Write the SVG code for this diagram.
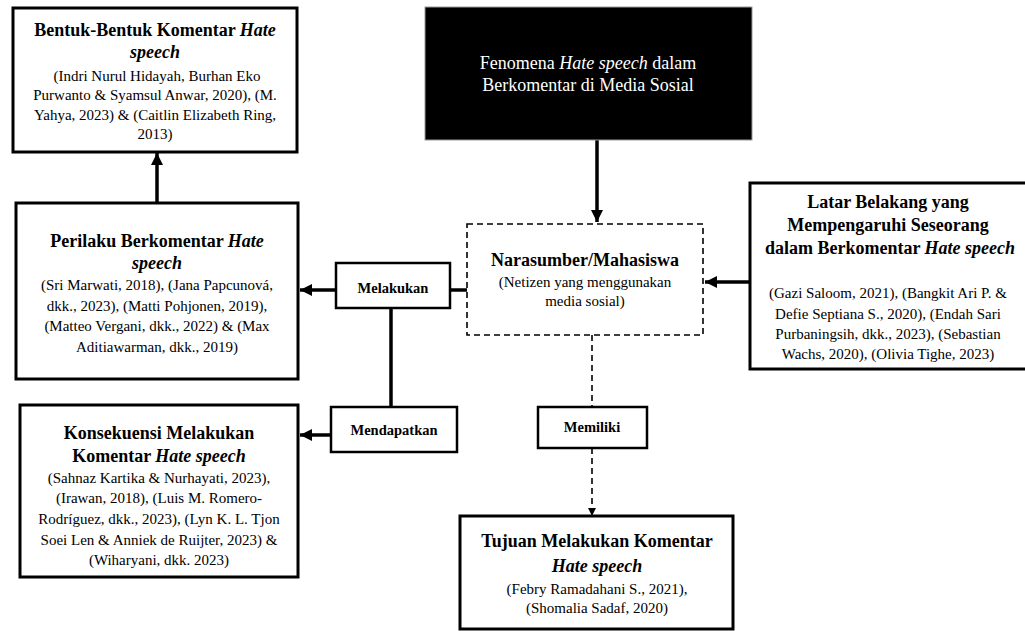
<svg xmlns="http://www.w3.org/2000/svg" width="1025" height="631" viewBox="0 0 1025 631">
<style>
text{font-family:"Liberation Serif","Times New Roman",serif;fill:#000;text-anchor:middle}
.t{font-weight:bold;font-size:18px}
.b{font-size:15px}
.l{font-weight:bold;font-size:14.5px}
.i{font-style:italic}
.box{fill:#fff;stroke:#000;stroke-width:3}
.lab{fill:#fff;stroke:#000;stroke-width:2.5}
.c{fill:none;stroke:#000;stroke-width:3.5}
.d{fill:none;stroke:#000;stroke-width:1.6;stroke-dasharray:6 4}
</style>
<defs>
<marker id="ah" markerUnits="userSpaceOnUse" markerWidth="14" markerHeight="14" refX="12" refY="7" orient="auto">
<path d="M0,1 L12,7 L0,13 Z" fill="#000"/>
</marker>
<marker id="as" markerUnits="userSpaceOnUse" markerWidth="10" markerHeight="10" refX="8" refY="5" orient="auto">
<path d="M0,1 L8,5 L0,9 Z" fill="#000"/>
</marker>
</defs>
<rect width="1025" height="631" fill="#fff"/>

<g id="connectors">
<line class="c" x1="157" y1="203" x2="157" y2="153" marker-end="url(#ah)"/>
<line class="c" x1="597" y1="140" x2="597" y2="222" marker-end="url(#ah)"/>
<line class="c" x1="750" y1="282" x2="705" y2="282" marker-end="url(#ah)"/>
<line class="c" x1="467" y1="290" x2="450" y2="290"/>
<line class="c" x1="336" y1="290" x2="300" y2="290" marker-end="url(#ah)"/>
<line class="c" x1="391" y1="308" x2="391" y2="407"/>
<line class="c" x1="331" y1="435" x2="300" y2="435" marker-end="url(#ah)"/>
<line class="d" x1="592" y1="335" x2="592" y2="407"/>
<line class="d" x1="592" y1="448" x2="592" y2="516" marker-end="url(#as)"/>
</g>

<g id="fenomena">
<rect x="425" y="7" width="327" height="133" fill="#000" stroke="#999" stroke-width="1"/>
<text style="fill:#fff;font-size:18px" x="588" y="69">Fenomena <tspan class="i">Hate speech</tspan> dalam</text>
<text style="fill:#fff;font-size:18px" x="588" y="91">Berkomentar di Media Sosial</text>
</g>

<g id="bentuk">
<rect class="box" x="13" y="8" width="284" height="144"/>
<text class="t" x="155" y="36">Bentuk-Bentuk Komentar <tspan class="i">Hate</tspan></text>
<text class="t i" x="155" y="58">speech</text>
<text class="b" x="157" y="81">(Indri Nurul Hidayah, Burhan Eko</text>
<text class="b" x="155" y="100">Purwanto &amp; Syamsul Anwar, 2020), (M.</text>
<text class="b" x="155" y="120">Yahya, 2023) &amp; (Caitlin Elizabeth Ring,</text>
<text class="b" x="155" y="139">2013)</text>
</g>

<g id="perilaku">
<rect class="box" x="16" y="203" width="282" height="176"/>
<text class="t" x="157" y="247">Perilaku Berkomentar <tspan class="i">Hate</tspan></text>
<text class="t i" x="157" y="269">speech</text>
<text class="b" x="157" y="290">(Sri Marwati, 2018), (Jana Papcunová,</text>
<text class="b" x="157" y="311">dkk., 2023), (Matti Pohjonen, 2019),</text>
<text class="b" x="157" y="331">(Matteo Vergani, dkk., 2022) &amp; (Max</text>
<text class="b" x="157" y="352">Aditiawarman, dkk., 2019)</text>
</g>

<g id="konsekuensi">
<rect class="box" x="20" y="405" width="278" height="172"/>
<text class="t" x="159" y="439">Konsekuensi Melakukan</text>
<text class="t" x="159" y="462">Komentar <tspan class="i">Hate speech</tspan></text>
<text class="b" x="159" y="483">(Sahnaz Kartika &amp; Nurhayati, 2023),</text>
<text class="b" x="159" y="503">(Irawan, 2018), (Luis M. Romero-</text>
<text class="b" x="159" y="524">Rodríguez, dkk., 2023), (Lyn K. L. Tjon</text>
<text class="b" x="159" y="545">Soei Len &amp; Anniek de Ruijter, 2023) &amp;</text>
<text class="b" x="159" y="565">(Wiharyani, dkk. 2023)</text>
</g>

<g id="narasumber">
<rect x="467" y="224" width="236" height="111" fill="#fff" stroke="#000" stroke-width="1.6" stroke-dasharray="6 4"/>
<text class="t" x="585" y="266">Narasumber/Mahasiswa</text>
<text class="b" x="585" y="287">(Netizen yang menggunakan</text>
<text class="b" x="585" y="306">media sosial)</text>
</g>

<g id="latar">
<rect class="box" x="750" y="183" width="280" height="186"/>
<text class="t" x="888" y="208">Latar Belakang yang</text>
<text class="t" x="888" y="231">Mempengaruhi Seseorang</text>
<text class="t" x="890" y="254">dalam Berkomentar <tspan class="i">Hate speech</tspan></text>
<text class="b" x="888" y="298">(Gazi Saloom, 2021), (Bangkit Ari P. &amp;</text>
<text class="b" x="888" y="319">Defie Septiana S., 2020), (Endah Sari</text>
<text class="b" x="888" y="339">Purbaningsih, dkk., 2023), (Sebastian</text>
<text class="b" x="888" y="359">Wachs, 2020), (Olivia Tighe, 2023)</text>
</g>

<g id="tujuan">
<rect class="box" x="460" y="516" width="273" height="113"/>
<text class="t" x="597" y="547">Tujuan Melakukan Komentar</text>
<text class="t i" x="597" y="572">Hate speech</text>
<text class="b" x="597" y="594">(Febry Ramadahani S., 2021),</text>
<text class="b" x="597" y="613">(Shomalia Sadaf, 2020)</text>
</g>

<g id="melakukan">
<rect class="lab" x="336" y="263" width="114" height="45"/>
<text class="l" x="393" y="293">Melakukan</text>
</g>

<g id="mendapatkan">
<rect class="lab" x="331" y="407" width="126" height="45"/>
<text class="l" x="394" y="435">Mendapatkan</text>
</g>

<g id="memiliki">
<rect class="lab" x="538" y="407" width="109" height="41"/>
<text class="l" x="592" y="432">Memiliki</text>
</g>
</svg>
